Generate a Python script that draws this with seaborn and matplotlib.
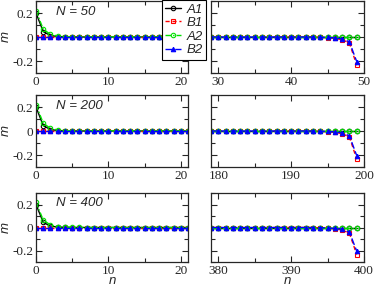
import numpy as np
import pandas as pd
import matplotlib
matplotlib.use("Agg")
import matplotlib.pyplot as plt
import seaborn as sns
from matplotlib.ticker import MultipleLocator

# 資料：三種系統大小 N，左圖為前 22 個點，右圖為最後 21 個點
sizes = [50, 200, 400]
series = ['A1', 'B1', 'A2', 'B2']

n_head = list(range(0, 22))
head_A1 = [0.20, 0.045, 0.012, 0.004, 0.001] + [0.0] * 17
head_B1 = [0.0] * 22
head_A2 = [0.22, 0.065, 0.022, 0.008, 0.004, 0.002, 0.001] + [0.0] * 15
head_B2 = [0.0] * 22

tail_A1 = [0.0] * 21
tail_B1 = [0.0] * 15 + [-0.003, -0.006, -0.012, -0.022, -0.05, -0.235]
tail_A2 = [0.0] * 21
tail_B2 = [0.0] * 15 + [-0.002, -0.004, -0.008, -0.015, -0.04, -0.205]

head = {'A1': head_A1, 'B1': head_B1, 'A2': head_A2, 'B2': head_B2}
tail = {'A1': tail_A1, 'B1': tail_B1, 'A2': tail_A2, 'B2': tail_B2}

styles = {
    'A1': dict(color='black', marker='o', linestyle='-', mfc='none'),
    'B1': dict(color='red', marker='s', linestyle=(0, (3, 2)), mfc='none'),
    'A2': dict(color='#00e000', marker='o', linestyle=(0, (4, 1.5, 1, 1.5)), mfc='none'),
    'B2': dict(color='blue', marker='^', linestyle=(0, (5, 2)), mfc='blue'),
}

sns.set_style("ticks")
plt.rcParams['font.family'] = ['Liberation Serif', 'DejaVu Serif']
plt.rcParams['xtick.direction'] = 'in'
plt.rcParams['ytick.direction'] = 'in'

fig = plt.figure(figsize=(3.74, 2.88), dpi=100)
W, H = 374, 288
rows = [(1, 73), (95, 167), (193, 262)]
cols = [(36, 188), (211, 364)]

handles = []
for r, N in enumerate(sizes):
    top, bot = rows[r]
    n_tail = list(range(N - 21, N))
    for c in range(2):
        x0, x1 = cols[c]
        ax = fig.add_axes([x0 / W, 1 - bot / H, (x1 - x0) / W, (bot - top) / H])
        nn = n_head if c == 0 else n_tail
        data = head if c == 0 else tail
        for s in series:
            st = styles[s]
            df = pd.DataFrame({'n': nn, 'm': data[s]})
            sns.lineplot(data=df, x='n', y='m', ax=ax, color=st['color'],
                         marker=st['marker'], linestyle=st['linestyle'],
                         markerfacecolor=st['mfc'], markeredgecolor=st['color'],
                         markersize=3.2, markeredgewidth=0.8, linewidth=1.0,
                         label=s if (r == 0 and c == 0) else None, legend=False)
        ax.set_ylim(-0.3, 0.3)
        if c == 0:
            ax.set_xlim(0, 21)
            ax.xaxis.set_major_locator(MultipleLocator(10))
            ax.set_yticks([-0.2, 0, 0.2])
            ax.set_yticklabels(['-0.2', '0', '0.2'])
            ax.set_ylabel('m', family='Liberation Sans', style='italic', fontsize=9.5)
            ax.yaxis.set_label_coords(-0.16, 0.5)
            ax.text(0.13, 0.85, f'N = {N}', transform=ax.transAxes,
                    family='Liberation Sans', style='italic', fontsize=9.5, va='center')
        else:
            ax.set_xlim(N - 21, N)
            ax.xaxis.set_major_locator(MultipleLocator(10))
            ax.set_yticks([-0.2, 0, 0.2])
            ax.set_yticklabels([])
            ax.set_ylabel('')
        ax.xaxis.set_minor_locator(MultipleLocator(5))
        ax.yaxis.set_minor_locator(MultipleLocator(0.1))
        ax.tick_params(which='both', top=True, right=True, labelsize=9.5, pad=2, width=0.8)
        ax.tick_params(which='major', length=4)
        ax.tick_params(which='minor', length=3)
        for sp in ax.spines.values():
            sp.set_linewidth(0.9)
        if r == 2:
            ax.set_xlabel('n', family='Liberation Sans', style='italic', fontsize=9.5, labelpad=-1)
        else:
            ax.set_xlabel('')
        if r == 0 and c == 0:
            handles = ax.get_legend_handles_labels()

leg = fig.legend(handles[0], handles[1], loc='upper left', bbox_to_anchor=(162 / W, 1.0),
                 frameon=True, fancybox=False, edgecolor='black', framealpha=1,
                 prop={'family': 'Liberation Sans', 'style': 'italic', 'size': 9.5},
                 handlelength=1.2, handletextpad=0.4, borderpad=0.25, labelspacing=0.1,
                 borderaxespad=0)
leg.get_frame().set_linewidth(0.8)

fig.savefig('out.png', dpi=100)
